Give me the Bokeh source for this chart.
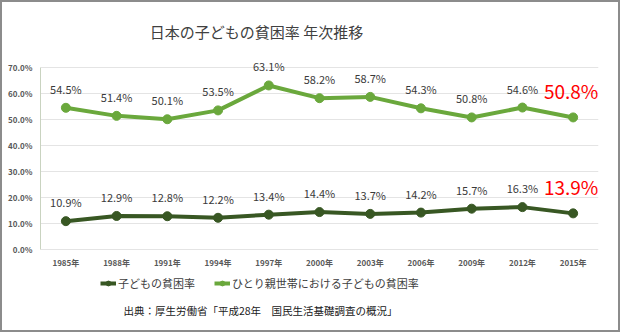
from bokeh.plotting import figure
from bokeh.models import (ColumnDataSource, FactorRange, LabelSet, Label, Legend, LegendItem,
                          PrintfTickFormatter, FixedTicker, Range1d)
from bokeh.core.properties import value
from bokeh.embed import file_html
from bokeh.resources import INLINE

years = ["1985年", "1988年", "1991年", "1994年", "1997年", "2000年",
         "2003年", "2006年", "2009年", "2012年", "2015年"]
child_rate = [10.9, 12.9, 12.8, 12.2, 13.4, 14.4, 13.7, 14.2, 15.7, 16.3, 13.9]
single_rate = [54.5, 51.4, 50.1, 53.5, 63.1, 58.2, 58.7, 54.3, 50.8, 54.6, 50.8]
y_ticks = [0, 10, 20, 30, 40, 50, 60, 70]

title_text = "日本の子どもの貧困率 年次推移"
series_names = ["子どもの貧困率", "ひとり親世帯における子どもの貧困率"]
source_text = "出典：厚生労働省「平成28年　国民生活基礎調査の概況」"

FONT = "Noto Sans CJK JP"
DARK = "#385723"
LIGHT = "#6aa83c"

# frame spans the full canvas height; y range chosen so 0%..70% sits where the reference draws it
p = figure(width=620, height=332, x_range=FactorRange(*years),
           y_range=Range1d(-32.69, 95.0),
           output_backend="svg", toolbar_location=None,
           min_border_left=38, min_border_right=24, min_border_top=0, min_border_bottom=0)
p.styles = {"border": "2px solid #8c8c8c", "box-sizing": "border-box"}
p.outline_line_color = None
p.background_fill_color = "white"
p.border_fill_color = "white"

p.xgrid.grid_line_color = None
p.ygrid.grid_line_color = "#e4e4e4"
p.ygrid.grid_line_width = 1
p.yaxis.ticker = FixedTicker(ticks=y_ticks)
p.yaxis.formatter = PrintfTickFormatter(format="%.1f%%")
p.yaxis.bounds = (0, 70)
p.xaxis.fixed_location = 0
for ax in (p.xaxis[0], p.yaxis[0]):
    ax.major_tick_line_color = None
    ax.minor_tick_line_color = None
    ax.major_tick_out = 0
    ax.major_tick_in = 0
    ax.minor_tick_out = 0
    ax.major_label_text_font = FONT
    ax.major_label_text_font_size = "8px"
    ax.major_label_text_font_style = "bold"
    ax.major_label_text_color = "#595959"
p.xaxis.axis_line_color = None
p.xaxis.major_label_standoff = 7
p.yaxis.axis_line_color = "#c9d3c0"
p.yaxis.major_label_standoff = 8

src_c = ColumnDataSource(dict(x=years, y=child_rate))
src_s = ColumnDataSource(dict(x=years, y=single_rate))

lc = p.line("x", "y", source=src_c, line_color=DARK, line_width=4)
sc = p.scatter("x", "y", source=src_c, size=9, color=DARK)
ls = p.line("x", "y", source=src_s, line_color=LIGHT, line_width=4)
ss = p.scatter("x", "y", source=src_s, size=9, color=LIGHT)

n = len(years)
for s_vals in (child_rate, single_rate):
    sub = ColumnDataSource(dict(x=years[:n - 1], y=s_vals[:n - 1],
                                t=[f"{v:.1f}%" for v in s_vals[:n - 1]]))
    p.add_layout(LabelSet(x="x", y="y", text="t", source=sub, y_offset=11,
                          text_align="center", text_baseline="bottom",
                          text_font=value(FONT), text_font_size="11px", text_color="#3a3a3a"))
    last = ColumnDataSource(dict(x=years[n - 1:], y=s_vals[n - 1:],
                                 t=[f"{v:.1f}%" for v in s_vals[n - 1:]]))
    p.add_layout(LabelSet(x="x", y="y", text="t", source=last, y_offset=13, x_offset=-2,
                          text_align="center", text_baseline="bottom",
                          text_font=value(FONT), text_font_size="19px", text_color="#ff0000"))

# title (screen units: from frame left / frame bottom)
p.add_layout(Label(x=216, y=303, x_units="screen", y_units="screen", text=title_text,
                   text_align="center", text_baseline="middle", text_font=FONT,
                   text_font_size="15px", text_color="#404040"))
# source note
p.add_layout(Label(x=220, y=24, x_units="screen", y_units="screen", text=source_text,
                   text_align="center", text_baseline="middle", text_font=FONT,
                   text_font_size="10.5px", text_color="#202020"))

legend = Legend(items=[LegendItem(label=series_names[0], renderers=[lc, sc]),
                       LegendItem(label=series_names[1], renderers=[ls, ss])],
                orientation="horizontal", location=(60, 43),
                label_text_font=FONT, label_text_font_size="11px", label_text_color="#404040",
                glyph_width=16, glyph_height=12, label_height=12, spacing=19,
                padding=0, margin=0, border_line_color=None, background_fill_alpha=0,
                label_standoff=2)
p.add_layout(legend, "center")

open("out.html", "w").write(file_html(p, INLINE))
